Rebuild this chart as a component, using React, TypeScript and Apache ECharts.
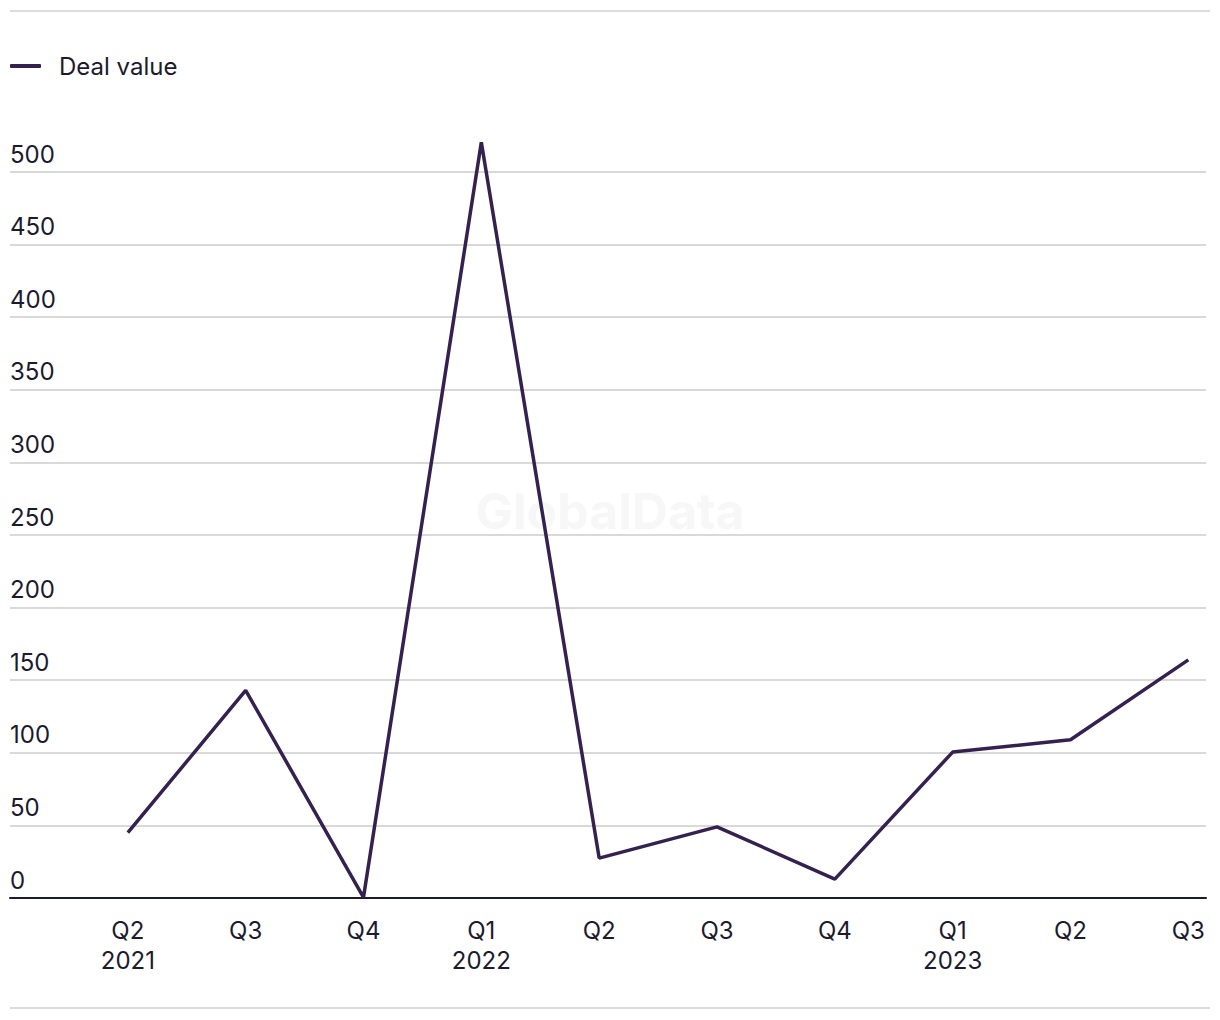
import React, { useEffect, useRef } from "react";
import * as echarts from "echarts";

const quarterLabels = ["Q2\n2021", "Q3", "Q4", "Q1\n2022", "Q2", "Q3", "Q4", "Q1\n2023", "Q2", "Q3"];
const dealValues = [45, 143, 0.5, 520.5, 27.5, 49, 13, 100.5, 109, 164];
const seriesName = "Deal value";

const TEXT = "#1c1a2e";
const FONT = "Inter, 'Noto Sans', sans-serif";

export default function App() {
  const ref = useRef<HTMLDivElement>(null);
  useEffect(() => {
    if (!ref.current) return;
    const chart = echarts.init(ref.current, undefined, { renderer: "svg" });
    const data = dealValues.map((v, i) => [i, v]);
    chart.setOption({
      animation: false,
      textStyle: { fontFamily: FONT },
      legend: {
        left: 5,
        top: 49,
        icon: "roundRect",
        itemWidth: 31,
        itemHeight: 4,
        textStyle: { fontSize: 24, color: TEXT, fontFamily: FONT, padding: [0, 0, 0, 13] },
        data: [seriesName],
      },
      grid: { left: 10, right: 14, top: 172, bottom: 122, containLabel: false },
      xAxis: {
        type: "value",
        min: -1,
        max: 9.15,
        interval: 1,
        axisLine: { show: true, lineStyle: { color: TEXT, width: 2 } },
        axisTick: { show: false },
        splitLine: { show: false },
        axisLabel: {
          fontSize: 24,
          color: TEXT,
          fontFamily: FONT,
          lineHeight: 30,
          margin: 17,
          showMaxLabel: false,
          formatter: (v: number) => (Number.isInteger(v) && v >= 0 ? quarterLabels[v] ?? "" : ""),
        },
      },
      yAxis: {
        type: "value",
        min: 0,
        max: 500,
        interval: 50,
        axisLine: { show: false },
        axisTick: { show: false },
        splitLine: { show: true, lineStyle: { color: "#d9d9d9", width: 2 } },
        axisLabel: {
          inside: true,
          margin: 0,
          fontSize: 24,
          color: TEXT,
          fontFamily: FONT,
          verticalAlign: "bottom",
          padding: [0, 0, 6, 0],
        },
      },
      graphic: [
        { type: "line", shape: { x1: 10, y1: 11, x2: 1210, y2: 11 }, style: { stroke: "#dcdcdc", lineWidth: 2 } },
        { type: "line", shape: { x1: 10, y1: 1008, x2: 1210, y2: 1008 }, style: { stroke: "#dcdcdc", lineWidth: 2 } },
        {
          type: "text",
          left: "center",
          top: 486,
          z: -1,
          style: { text: "GlobalData", fontSize: 50, fontWeight: "bold", fill: "#f7f7f7", fontFamily: FONT },
        },
      ],
      series: [
        {
          name: seriesName,
          type: "line",
          data,
          clip: false,
          symbol: "none",
          lineStyle: { color: "#35214f", width: 3.5 },
          itemStyle: { color: "#35214f" },
        },
      ],
    });
    return () => chart.dispose();
  }, []);
  return <div ref={ref} style={{ position: "fixed", left: 0, top: 0, width: 1220, height: 1020, background: "#fff" }} />;
}
